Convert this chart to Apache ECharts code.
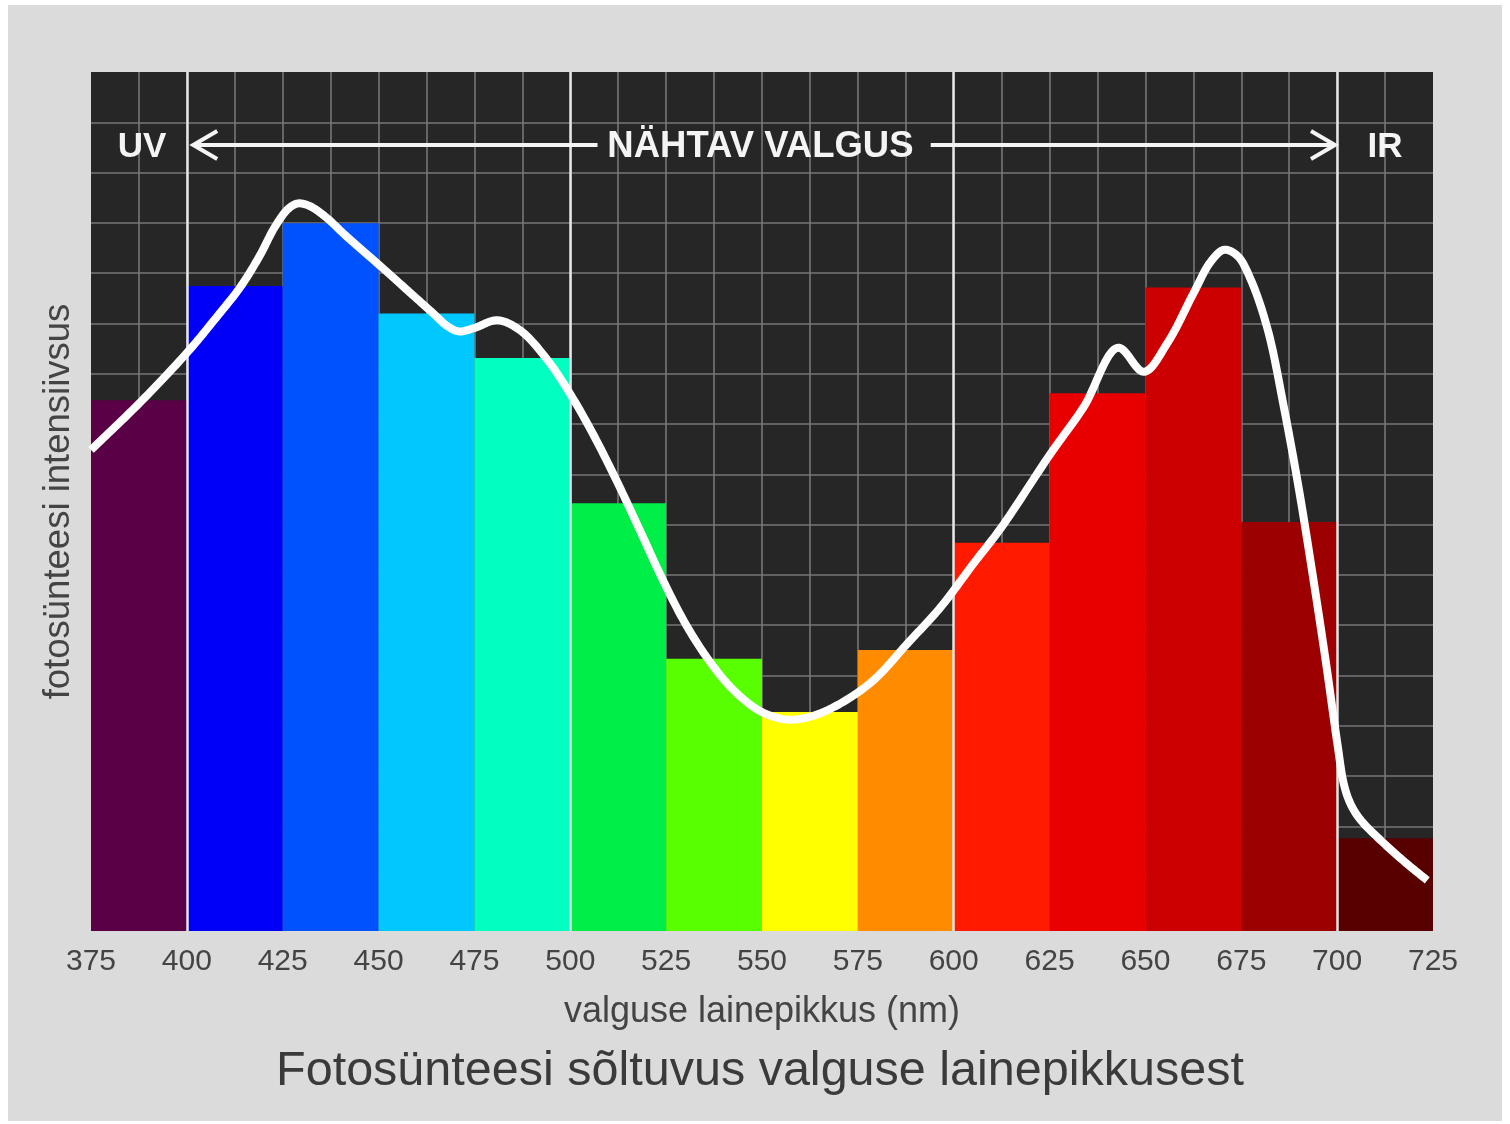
<!DOCTYPE html>
<html>
<head>
<meta charset="utf-8">
<script src="https://cdn.jsdelivr.net/npm/echarts@6/dist/echarts.min.js"></script>
<style>
  html, body { margin: 0; padding: 0; background: #ffffff; width: 1510px; height: 1124px; overflow: hidden; }
  #chart { position: absolute; left: 8px; top: 5px; width: 1494px; height: 1116px; }
</style>
</head>
<body>
<div id="chart"></div>
<script>
// ---- data ----
const bandEdges = [375, 400, 425, 450, 475, 500, 525, 550, 575, 600, 625, 650, 675, 700, 725];
const bandValues = [61.8, 75.1, 82.4, 71.9, 66.7, 49.8, 31.7, 25.5, 32.7, 45.2, 62.6, 74.9, 47.6, 10.8];
const bandColors = ['#5a0046', '#0000f8', '#0052ff', '#00c8ff', '#00ffc0', '#00ee48', '#58ff00', '#ffff00', '#ff8c00', '#ff1a00', '#e80000', '#cc0000', '#9c0000', '#580000'];

const curveNm  = [375, 387.5, 400, 408, 414, 419, 423, 426.5, 429, 432, 436, 441.8, 450, 458, 464, 468, 471, 475, 481, 487, 494, 500, 506, 512, 518, 524, 530, 536, 542, 548, 552, 556.7, 563, 570.5, 579.1, 588.0, 596.6, 605.2, 612.3, 625.3, 633.9, 642.8, 649.6, 655.8, 662.6, 667, 670.5, 674, 677.5, 681.9, 686.1, 690, 693.5, 697, 700, 701.8, 703.5, 706, 712.2, 718, 723.5];
const curveVal = [56.0, 61.4, 67.3, 71.6, 75.0, 78.6, 82.0, 84.1, 84.7, 84.4, 83.2, 80.8, 77.6, 74.4, 72.0, 70.4, 69.8, 70.2, 71.1, 69.9, 66.5, 62.5, 57.8, 52.5, 46.8, 41.0, 35.8, 31.6, 28.3, 26.0, 25.1, 24.6, 25.0, 26.5, 29.2, 33.5, 37.7, 42.8, 46.9, 55.6, 61.0, 67.9, 65.1, 68.5, 74.3, 77.9, 79.3, 78.6, 75.8, 70.0, 61.0, 51.5, 41.8, 31.5, 22.0, 17.0, 14.8, 13.0, 10.2, 7.9, 5.9];

const majorLines = [400, 500, 600, 700];
const tickLabelsStep = 25;

const regionLabels = ['UV', 'NÄHTAV VALGUS', 'IR'];
const regionLabelNm = [388.3, 549.6, 712.5];
const arrowLevel = 91.5;
const arrowLeft = [401.4, 507.1];   // tip, tail
const arrowRight = [594.0, 699.7];  // tail, tip

const xName = 'valguse lainepikkus (nm)';
const yName = 'fotosünteesi intensiivsus';
const titleText = 'Fotosünteesi sõltuvus valguse lainepikkusest';

// ---- helpers ----
function dist(a, b) { return Math.hypot(b[0] - a[0], b[1] - a[1]); }
// centripetal Catmull-Rom through pixel points, sampled into a polyline
function splinePoints(pts, samples) {
  const n = pts.length, out = [pts[0]];
  for (let i = 0; i < n - 1; i++) {
    const p1 = pts[i], p2 = pts[i + 1];
    const p0 = i > 0 ? pts[i - 1] : [2 * p1[0] - p2[0], 2 * p1[1] - p2[1]];
    const p3 = i < n - 2 ? pts[i + 2] : [2 * p2[0] - p1[0], 2 * p2[1] - p1[1]];
    const d1 = Math.max(Math.sqrt(dist(p0, p1)), 1e-6);
    const d2 = Math.max(Math.sqrt(dist(p1, p2)), 1e-6);
    const d3 = Math.max(Math.sqrt(dist(p2, p3)), 1e-6);
    const b1 = [0, 1].map(k => (d1 * d1 * p2[k] - d2 * d2 * p0[k] + (2 * d1 * d1 + 3 * d1 * d2 + d2 * d2) * p1[k]) / (3 * d1 * (d1 + d2)));
    const b2 = [0, 1].map(k => (d3 * d3 * p1[k] - d2 * d2 * p3[k] + (2 * d3 * d3 + 3 * d3 * d2 + d2 * d2) * p2[k]) / (3 * d3 * (d3 + d2)));
    for (let s = 1; s <= samples; s++) {
      const t = s / samples, u = 1 - t;
      out.push([0, 1].map(k => u * u * u * p1[k] + 3 * u * u * t * b1[k] + 3 * u * t * t * b2[k] + t * t * t * p2[k]));
    }
  }
  return out;
}

// ---- chart ----
const FONT = '"Liberation Sans", Arial, sans-serif';
const chart = echarts.init(document.getElementById('chart'), null, { renderer: 'canvas' });

const bandData = bandValues.map((v, i) => [bandEdges[i], bandEdges[i + 1], v]);
const curveData = curveNm.map((x, i) => [x, curveVal[i]]);

const option = {
  backgroundColor: '#dadbda',
  animation: false,
  title: {
    text: titleText,
    left: 747,
    textAlign: 'center',
    top: 1037,
    textStyle: { fontFamily: FONT, fontSize: 48.5, fontWeight: 'normal', color: '#3a3a3a' }
  },
  grid: {
    left: 83, top: 67, right: 69, bottom: 190,
    show: true, backgroundColor: '#262626', borderWidth: 0
  },
  xAxis: {
    type: 'value', min: 375, max: 725, interval: 12.5,
    name: xName, nameLocation: 'middle', nameGap: 63,
    nameTextStyle: { fontFamily: FONT, fontSize: 36, color: '#444' },
    axisLine: { show: false }, axisTick: { show: false },
    axisLabel: {
      fontFamily: FONT, fontSize: 30, color: '#444', margin: 16,
      showMinLabel: true, showMaxLabel: true,
      formatter: v => (Math.abs(v % tickLabelsStep) < 1e-6 ? String(v) : '')
    },
    splitLine: { show: true, showMinLine: false, showMaxLine: false, lineStyle: { color: '#767676', width: 1.6 } }
  },
  yAxis: [
    {
      type: 'value', min: 0, max: 100,
      name: yName, nameLocation: 'middle', nameGap: 14, nameRotate: 90,
      nameTextStyle: { fontFamily: FONT, fontSize: 36.5, color: '#444' },
      axisLine: { show: false }, axisTick: { show: false }, axisLabel: { show: false },
      splitLine: { show: false }
    },
    {
      type: 'value', min: 0, max: 17.08, interval: 1, inverse: true, position: 'left',
      axisLine: { show: false }, axisTick: { show: false }, axisLabel: { show: false },
      splitLine: { show: true, showMinLine: false, showMaxLine: false, lineStyle: { color: '#767676', width: 1.6 } }
    }
  ],
  series: [
    {
      type: 'custom',
      name: 'bands',
      z: 2,
      data: bandData,
      encode: { x: [0, 1], y: 2 },
      renderItem: function (params, api) {
        const p0 = api.coord([api.value(0), api.value(2)]);
        const p1 = api.coord([api.value(1), 0]);
        return {
          type: 'rect',
          shape: { x: p0[0], y: p0[1], width: p1[0] - p0[0], height: p1[1] - p0[1] },
          style: { fill: bandColors[params.dataIndex] }
        };
      }
    },
    {
      type: 'line',
      name: 'major',
      z: 3,
      data: [],
      markLine: {
        silent: true, symbol: ['none', 'none'], label: { show: false },
        lineStyle: { color: '#e6e6e6', width: 2.5, type: 'solid' },
        data: majorLines.map(x => ({ xAxis: x }))
      }
    },
    {
      type: 'custom',
      name: 'curve',
      z: 5,
      data: curveData,
      encode: { x: 0, y: 1 },
      renderItem: function (params, api) {
        if (params.dataIndex !== 0) return null;
        const pts = curveNm.map((x, i) => api.coord([x, curveVal[i]]));
        return {
          type: 'polyline',
          shape: { points: splinePoints(pts, 16) },
          style: { stroke: '#fdfdfd', lineWidth: 8, fill: null, lineCap: 'butt', lineJoin: 'round' }
        };
      }
    }
  ]
};

chart.setOption(option);

// annotations positioned from data coordinates
function px(x, y) { return chart.convertToPixel({ xAxisIndex: 0, yAxisIndex: 0 }, [x, y]); }
const aL0 = px(arrowLeft[0], arrowLevel), aL1 = px(arrowLeft[1], arrowLevel);
const aR0 = px(arrowRight[0], arrowLevel), aR1 = px(arrowRight[1], arrowLevel);
const lineStyle = { stroke: '#f4f4f4', lineWidth: 4, fill: null, lineJoin: 'miter' };
const graphics = [
  { type: 'line', z: 10, shape: { x1: aL0[0] + 1, y1: aL0[1], x2: aL1[0], y2: aL1[1] }, style: lineStyle },
  { type: 'polyline', z: 10, shape: { points: [[aL0[0] + 25, aL0[1] - 14], [aL0[0] + 1, aL0[1]], [aL0[0] + 25, aL0[1] + 14]] }, style: lineStyle },
  { type: 'line', z: 10, shape: { x1: aR0[0], y1: aR0[1], x2: aR1[0] - 1, y2: aR1[1] }, style: lineStyle },
  { type: 'polyline', z: 10, shape: { points: [[aR1[0] - 25, aR1[1] - 14], [aR1[0] - 1, aR1[1]], [aR1[0] - 25, aR1[1] + 14]] }, style: lineStyle }
];
regionLabels.forEach((t, i) => {
  const p = px(regionLabelNm[i], arrowLevel);
  graphics.push({
    type: 'text', z: 10, x: p[0], y: p[1] + 2,
    style: { text: t, fill: '#f4f4f4', font: 'bold ' + (i === 1 ? 36.5 : 35) + 'px ' + FONT, textAlign: 'center', textVerticalAlign: 'middle' }
  });
});
chart.setOption({ graphic: graphics });
</script>
</body>
</html>
